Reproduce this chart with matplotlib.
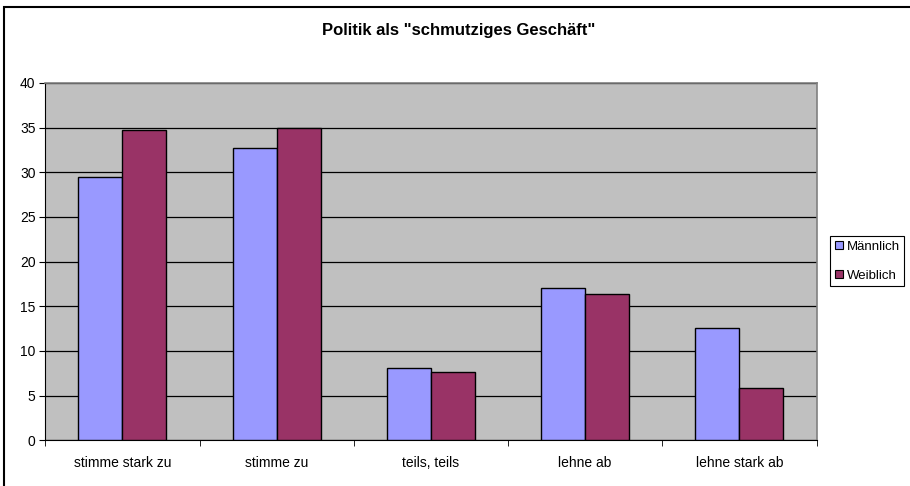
import matplotlib
matplotlib.use("Agg")
import matplotlib.pyplot as plt
import numpy as np
from matplotlib.patches import Patch, Rectangle

categories = ["stimme stark zu", "stimme zu", "teils, teils", "lehne ab", "lehne stark ab"]
maennlich = [29.5, 32.7, 8.1, 17.0, 12.6]
weiblich = [34.7, 35.0, 7.7, 16.4, 5.9]
series_names = ["Männlich", "Weiblich"]
colors = ["#9999FF", "#993366"]
title = 'Politik als "schmutziges Geschäft"'

plt.rcParams['font.family'] = ['Liberation Sans', 'DejaVu Sans']

W, H = 910, 486
fig = plt.figure(figsize=(W/100, H/100), dpi=100)
fig.patch.set_facecolor("white")

# outer chart border (only left/top visible)
fig.add_artist(Rectangle((4/W, -0.1), 1.2, (H - 7)/H + 0.1, transform=fig.transFigure,
                         fill=False, edgecolor="black", linewidth=1.5, zorder=10))

left, right, top, bottom = 45.3, 816.5, 83, 440.3
ax = fig.add_axes([left/W, 1 - bottom/H, (right-left)/W, (bottom-top)/H])
ax.set_facecolor("#C0C0C0")

x = np.arange(len(categories))
bw = 0.285
ax.bar(x - bw/2, maennlich, bw, color=colors[0], edgecolor="black", linewidth=1.0, zorder=3)
ax.bar(x + bw/2, weiblich, bw, color=colors[1], edgecolor="black", linewidth=1.0, zorder=3)

ax.set_xlim(-0.5, len(categories) - 0.5)
ax.set_ylim(0, 40)
ax.set_yticks(np.arange(0, 41, 5))
ax.yaxis.grid(True, color="black", linewidth=0.9, zorder=1)
ax.set_axisbelow(True)

ax.set_xticks(x)
ax.set_xticklabels(categories, fontsize=10)
ax.tick_params(axis="x", length=0, pad=11)
ax.set_xticks(np.arange(-0.5, len(categories) + 0.5, 1), minor=True)
ax.tick_params(axis="x", which="minor", length=4, direction="out", color="black")
ax.tick_params(axis="y", length=4, direction="out", labelsize=10, pad=3)

for s in ["top", "right"]:
    ax.spines[s].set_color("#808080")
    ax.spines[s].set_linewidth(1.2)
ax.spines["left"].set_color("black")
ax.spines["bottom"].set_color("black")

fig.text(459/W, 1 - 31/H, title, ha="center", va="center",
         fontsize=12, fontweight="bold")

handles = [Patch(facecolor=c, edgecolor="black", linewidth=0.8) for c in colors]
leg = fig.legend(handles, series_names, loc="upper left",
                 bbox_to_anchor=(830/W, 1 - 236/H), fontsize=9.5,
                 handlelength=0.6, handleheight=0.6, handletextpad=0.3,
                 borderpad=0.35, labelspacing=1.3, fancybox=False, framealpha=1,
                 edgecolor="black", borderaxespad=0)
leg.get_frame().set_linewidth(0.8)

fig.savefig("out.png", dpi=100)
